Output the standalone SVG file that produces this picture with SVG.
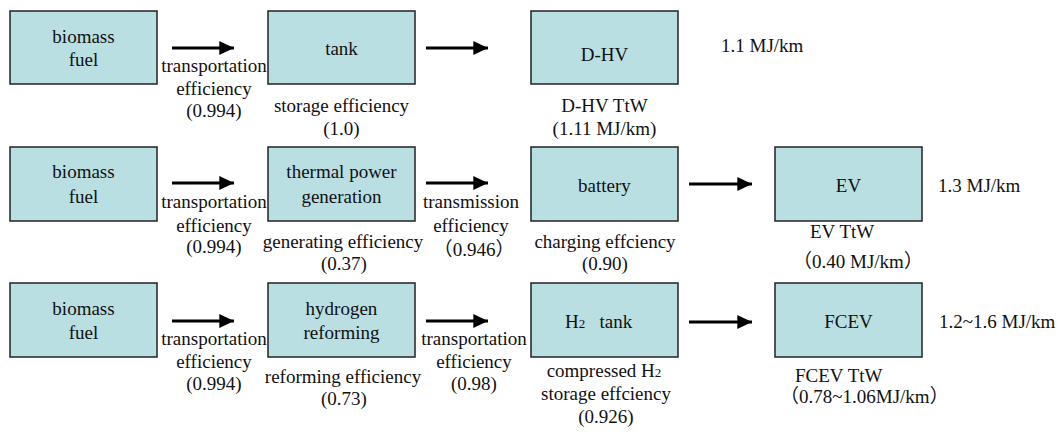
<svg xmlns="http://www.w3.org/2000/svg" width="1060" height="437" viewBox="0 0 1060 437" font-family="Liberation Serif, serif">
<style>
.box{fill:#b9dfe2;stroke:#222;stroke-width:1.5}
text{font-family:'Liberation Serif','Times New Roman',serif;font-size:19px;fill:#111}
.cjk{font-family:'Noto Sans CJK SC',sans-serif}
.c{text-anchor:middle}
.ln{stroke:#000;stroke-width:3;fill:none}
.sm{font-size:13px}
</style>
<defs>
<marker id="ah" markerWidth="5.2" markerHeight="4.6" refX="4.9" refY="2.3" orient="auto" markerUnits="strokeWidth">
<path d="M0,0 L4.9,2.3 L0,4.6 Z" fill="#000"/>
</marker>
</defs>
<rect width="1060" height="437" fill="#fff"/>

<g id="connectors">
<line class="ln" x1="172" y1="48" x2="234" y2="48" marker-end="url(#ah)"/>
<line class="ln" x1="426" y1="48" x2="488" y2="48" marker-end="url(#ah)"/>
<line class="ln" x1="172" y1="183" x2="234" y2="183" marker-end="url(#ah)"/>
<line class="ln" x1="426" y1="183" x2="488" y2="183" marker-end="url(#ah)"/>
<line class="ln" x1="689" y1="184" x2="752" y2="184" marker-end="url(#ah)"/>
<line class="ln" x1="172" y1="321" x2="234" y2="321" marker-end="url(#ah)"/>
<line class="ln" x1="426" y1="321" x2="488" y2="321" marker-end="url(#ah)"/>
<line class="ln" x1="689" y1="322" x2="752" y2="322" marker-end="url(#ah)"/>
</g>

<g id="labels">
<text class="c" x="214" y="72">transportation</text>
<text class="c" x="214" y="95">efficiency</text>
<text class="c" x="214" y="117">(0.994)</text>
<text class="c" x="214" y="208">transportation</text>
<text class="c" x="214" y="232">efficiency</text>
<text class="c" x="214" y="253">(0.994)</text>
<text class="c" x="471" y="208">transmission</text>
<text class="c" x="471" y="232">efficiency</text>
<text class="c" x="474" y="256"><tspan class="cjk">（</tspan>0.946<tspan class="cjk">）</tspan></text>
<text class="c" x="214" y="345">transportation</text>
<text class="c" x="214" y="368">efficiency</text>
<text class="c" x="214" y="390">(0.994)</text>
<text class="c" x="474" y="345">transportation</text>
<text class="c" x="474" y="368">efficiency</text>
<text class="c" x="474" y="390">(0.98)</text>
</g>

<g id="n-biomass1"><rect class="box" x="10" y="11" width="147" height="73"/><text class="c" x="83.5" y="43">biomass</text><text class="c" x="83.5" y="66">fuel</text></g>
<g id="n-tank"><rect class="box" x="268" y="11" width="147" height="73"/><text class="c" x="341.5" y="55">tank</text>
<text class="c" x="341.5" y="112">storage efficiency</text><text class="c" x="341.5" y="135">(1.0)</text></g>
<g id="n-dhv"><rect class="box" x="531" y="11" width="147" height="73"/><text class="c" x="604.5" y="61">D-HV</text>
<text class="c" x="604.5" y="112">D-HV TtW</text><text class="c" x="604.5" y="135">(1.11 MJ/km)</text>
<text x="721" y="52">1.1 MJ/km</text></g>

<g id="n-biomass2"><rect class="box" x="10" y="147" width="147" height="74"/><text class="c" x="83.5" y="178">biomass</text><text class="c" x="83.5" y="203">fuel</text></g>
<g id="n-thermal"><rect class="box" x="268" y="147" width="147" height="74"/><text class="c" x="341.5" y="178">thermal power</text><text class="c" x="341.5" y="203">generation</text>
<text class="c" x="343" y="248">generating efficiency</text><text class="c" x="344" y="270">(0.37)</text></g>
<g id="n-battery"><rect class="box" x="531" y="147" width="147" height="74"/><text class="c" x="604.5" y="192">battery</text>
<text class="c" x="605" y="248">charging effciency</text><text class="c" x="605" y="270">(0.90)</text></g>
<g id="n-ev"><rect class="box" x="775" y="147" width="147" height="74"/><text class="c" x="848.5" y="192">EV</text>
<text x="810" y="238">EV TtW</text><text x="793" y="268"><tspan class="cjk">（</tspan>0.40 MJ/km<tspan class="cjk">）</tspan></text>
<text x="938" y="192">1.3 MJ/km</text></g>

<g id="n-biomass3"><rect class="box" x="10" y="283" width="147" height="74"/><text class="c" x="83.5" y="315">biomass</text><text class="c" x="83.5" y="339">fuel</text></g>
<g id="n-reform"><rect class="box" x="268" y="283" width="147" height="74"/><text class="c" x="341.5" y="315">hydrogen</text><text class="c" x="341.5" y="339">reforming</text>
<text class="c" x="343" y="383">reforming efficiency</text><text class="c" x="344" y="405">(0.73)</text></g>
<g id="n-h2tank"><rect class="box" x="531" y="283" width="147" height="74"/><text x="565" y="328" xml:space="preserve">H<tspan class="sm">2</tspan>   tank</text>
<text class="c" x="604" y="377">compressed H<tspan class="sm">2</tspan></text><text class="c" x="606" y="400">storage effciency</text><text class="c" x="606" y="423">(0.926)</text></g>
<g id="n-fcev"><rect class="box" x="775" y="283" width="147" height="74"/><text class="c" x="848.5" y="328">FCEV</text>
<text x="795" y="382">FCEV TtW</text><text x="780" y="403"><tspan class="cjk">（</tspan>0.78~1.06MJ/km<tspan class="cjk">）</tspan></text>
<text x="939" y="328">1.2~1.6 MJ/km</text></g>
</svg>
